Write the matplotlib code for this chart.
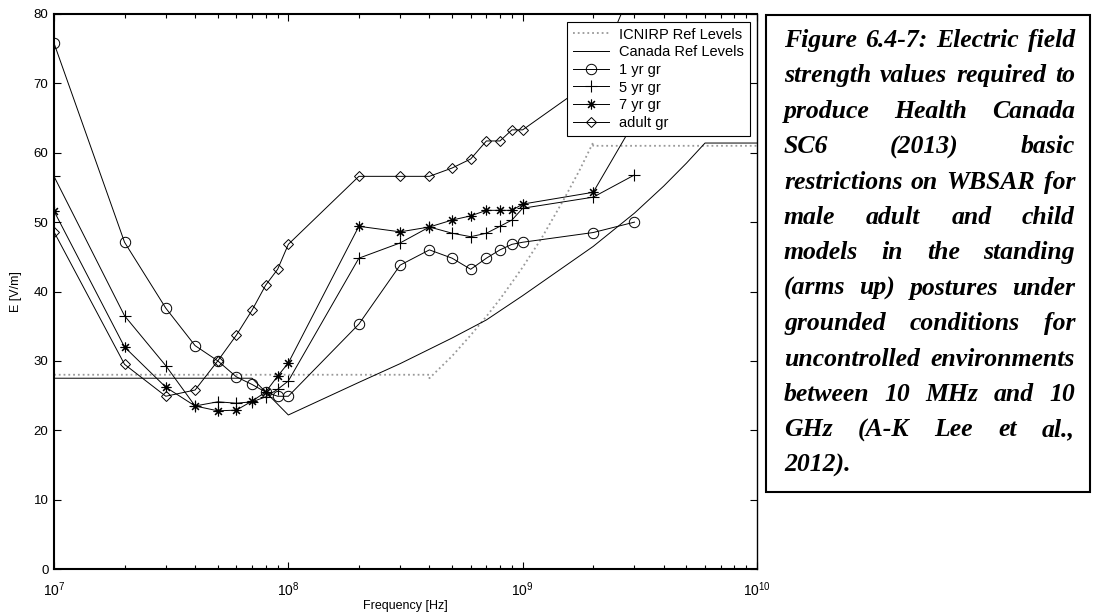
import matplotlib.pyplot as plt
from matplotlib.patches import Rectangle
from matplotlib.ticker import NullFormatter

plt.rcParams['font.family'] = ['Liberation Sans', 'DejaVu Sans']
plt.rcParams['mathtext.default'] = 'regular'

# E-field [V/m] needed to reach the WBSAR limit, per model, grounded
freq = [1e7, 2e7, 3e7, 4e7, 5e7, 6e7, 7e7, 8e7, 9e7,
        1e8, 2e8, 3e8, 4e8, 5e8, 6e8, 7e8, 8e8, 9e8,
        1e9, 2e9, 3e9]
e_1yr = [75.8, 47.1, 37.6, 32.2, 30.0, 27.7, 26.6, 25.5, 24.9,
         24.9, 35.3, 43.8, 46.0, 44.8, 43.2, 44.8, 46.0, 46.8,
         47.1, 48.5, 50.0]
e_5yr = [56.6, 36.5, 29.3, 23.5, 24.1, 23.9, 24.1, 24.8, 25.9,
         27.1, 44.8, 47.0, 49.3, 48.4, 47.9, 48.4, 49.4, 50.3,
         52.0, 53.6, 56.8]
e_7yr = [51.6, 32.0, 26.2, 23.5, 22.8, 22.9, 24.2, 25.5, 27.8,
         29.7, 49.4, 48.6, 49.3, 50.3, 50.9, 51.7, 51.7, 51.7,
         52.6, 54.3, 64.5]
e_adult = [48.6, 29.5, 24.9, 25.8, 30.0, 33.7, 37.3, 40.9, 43.2,
           46.8, 56.6, 56.6, 56.6, 57.8, 59.1, 61.7, 61.7, 63.3,
           63.3, 70.5, 84.5]

# reference levels
icnirp_freq = [1e7, 4e8, 4e8, 5e8, 6e8, 7e8, 8e8, 9e8, 1e9,
               1.2e9, 1.5e9, 1.75e9, 2e9, 2e9, 1e10]
icnirp_e = [28.0, 28.0, 27.5, 30.7, 33.7, 36.4, 38.9, 41.3, 43.5,
            47.6, 53.3, 57.5, 61.5, 61.0, 61.0]
canada_freq = [1e7, 7e7, 1e8, 2e8, 3e8, 5e8, 7e8, 1e9, 2e9, 3e9,
               4e9, 5e9, 6e9, 1e10]
canada_e = [27.5, 27.5, 22.2, 26.9, 29.6, 33.3, 35.9, 39.4, 46.5, 51.3,
            55.2, 58.5, 61.4, 61.4]

xtick_vals = [1e7, 1e8, 1e9, 1e10]
xtick_labels = [r'$10^{7}$', r'$10^{8}$', r'$10^{9}$', r'$10^{10}$']

caption_lines = [
    'Figure 6.4-7: Electric field',
    'strength values required to',
    'produce Health Canada',
    'SC6 (2013) basic',
    'restrictions on WBSAR for',
    'male adult and child',
    'models in the standing',
    '(arms up) postures under',
    'grounded conditions for',
    'uncontrolled environments',
    'between 10 MHz and 10',
    'GHz (A-K Lee et al.,',
    '2012).',
]

W, H = 1095, 616
fig = plt.figure(figsize=(W / 100, H / 100), dpi=100)
ax = fig.add_axes([54 / W, 1 - 569 / H, (757 - 54) / W, (569 - 14) / H])

ax.plot(icnirp_freq, icnirp_e, color='0.6', ls=':', lw=1.3, label='ICNIRP Ref Levels')
ax.plot(canada_freq, canada_e, color='k', lw=0.7, label='Canada Ref Levels')
ax.plot(freq, e_1yr, color='k', lw=0.7, marker='o', ms=7.5, mfc='none', mew=0.7,
        label='1 yr gr')
ax.plot(freq, e_5yr, color='k', lw=0.7, marker='+', ms=8, mew=0.8, label='5 yr gr')
ax.plot(freq, e_7yr, color='k', lw=0.7, marker=(8, 2, 0), ms=7, mew=0.8,
        label='7 yr gr')
ax.plot(freq, e_adult, color='k', lw=0.7, marker='D', ms=5.5, mfc='none', mew=0.7,
        label='adult gr')

ax.set_xscale('log')
ax.set_xlim(1e7, 1e10)
ax.set_ylim(0, 80)
ax.set_yticks(range(0, 81, 10))
ax.set_xticks(xtick_vals)
ax.set_xticklabels(xtick_labels)
ax.xaxis.set_minor_formatter(NullFormatter())

ax.tick_params(which='both', direction='in', top=True, right=True)
ax.tick_params(which='major', length=5, width=0.8)
ax.tick_params(which='minor', length=3, width=0.8)
ax.tick_params(axis='x', pad=8, labelsize=10)
ax.tick_params(axis='y', pad=4, labelsize=9.5)

for side in ['left', 'bottom', 'top']:
    ax.spines[side].set_linewidth(1.5)
ax.spines['right'].set_linewidth(1.0)

ax.set_xlabel('Frequency [Hz]', fontsize=9, labelpad=1)
ax.set_ylabel('E [V/m]', fontsize=9, labelpad=8)

leg = ax.legend(loc='upper right', bbox_to_anchor=(0.990, 0.986), fontsize=10.5,
                frameon=True, fancybox=False, edgecolor='k', framealpha=1,
                borderaxespad=0, borderpad=0.4, labelspacing=0.25,
                handlelength=2.5, handletextpad=0.7)
leg.get_frame().set_linewidth(0.8)

# caption box with justified text
box_left, box_right, box_top, box_bottom = 766, 1090, 15, 492
fig.add_artist(Rectangle((box_left / W, 1 - box_bottom / H),
                         (box_right - box_left) / W, (box_bottom - box_top) / H,
                         transform=fig.transFigure, fill=False, ec='k', lw=1.5))

cap_style = dict(family='Liberation Serif', weight='bold', style='italic',
                 fontsize=18.5, va='baseline', ha='left')
text_left, text_right = 784, 1075
renderer = fig.canvas.get_renderer()
for i, line in enumerate(caption_lines):
    words = line.split()
    y = 1 - (47 + 35.4 * i) / H
    texts = [fig.text(0, y, w, **cap_style) for w in words]
    widths = [t.get_window_extent(renderer).width for t in texts]
    if i == len(caption_lines) - 1 or len(words) == 1:
        gap = 6
    else:
        gap = (text_right - text_left - sum(widths)) / (len(words) - 1)
    x = text_left
    for t, w in zip(texts, widths):
        t.set_x(x / W)
        x += w + gap

fig.savefig('out.png', dpi=100)
